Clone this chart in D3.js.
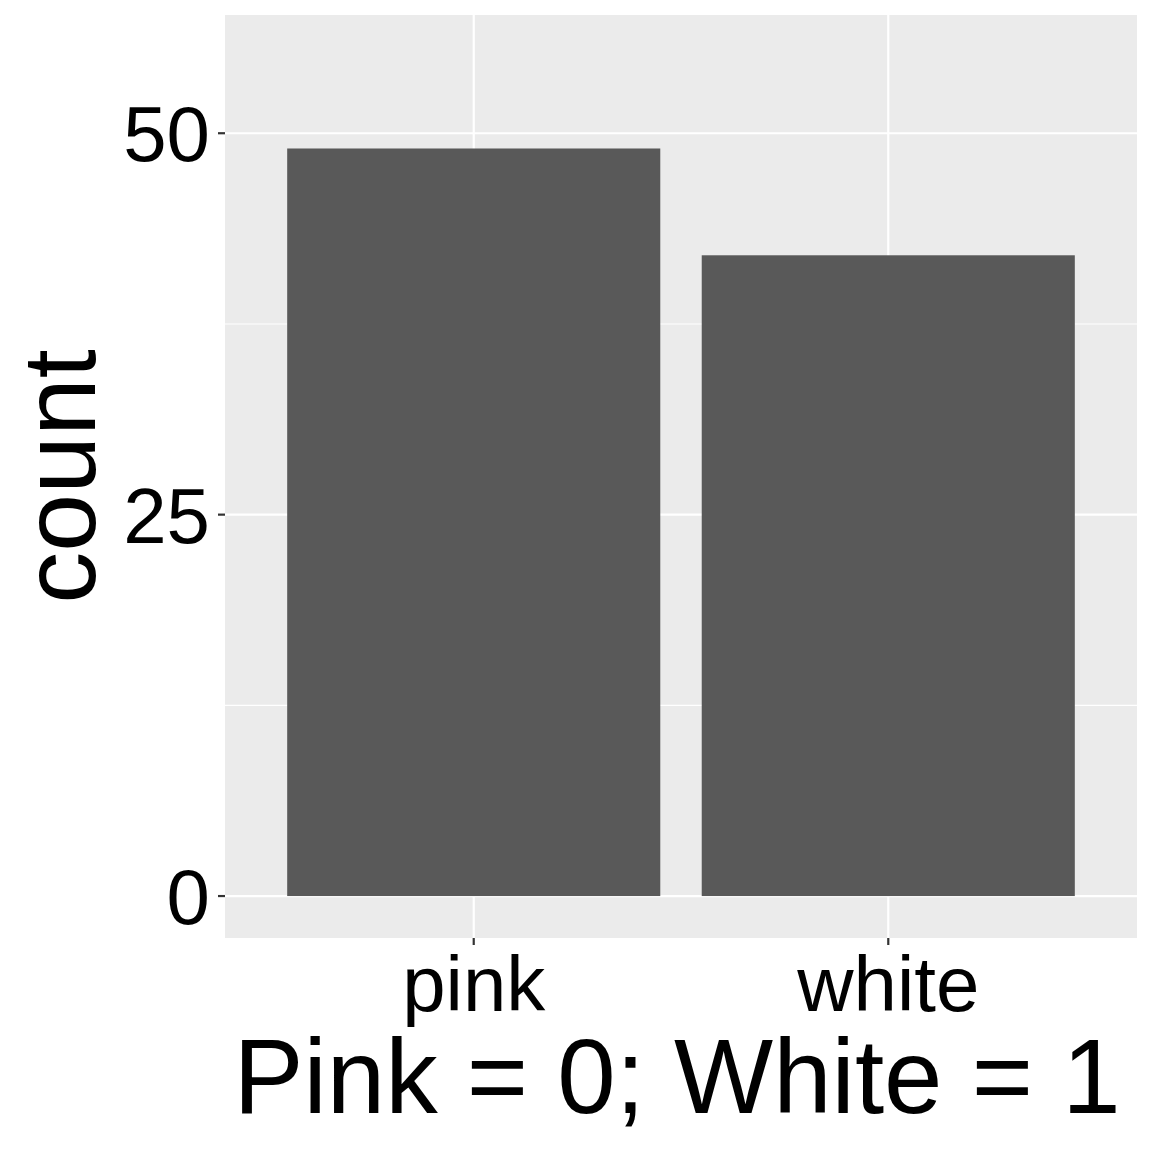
<!DOCTYPE html>
<html>
<head>
<meta charset="utf-8">
<script src="https://cdn.jsdelivr.net/npm/d3@7"></script>
<style>
  body { margin: 0; background: #fff; }
  text { font-family: "Liberation Sans", Arial, sans-serif; }
</style>
</head>
<body>
<svg id="chart" width="1152" height="1152"></svg>
<script>
// data
var categories = ["pink", "white"];
var counts = [49, 42];
var yTicks = [0, 25, 50];
var yMinor = [12.5, 37.5];
var xTitle = "Pink = 0; White = 1";
var yTitle = "count";

var svg = d3.select("#chart");
var panel = {left: 225, right: 1137, top: 15, bottom: 938};

// scales (ggplot style: bar width 0.9, 0.6 expansion each side)
var x = d3.scaleBand().domain(categories)
  .range([panel.left, panel.right])
  .paddingInner(0.1).paddingOuter(0.15)
  .align(0.5);
var y = d3.scaleLinear().domain([-2.75, 57.75]).range([panel.bottom, panel.top]);

// panel background
svg.append("rect").attr("x", panel.left).attr("y", panel.top)
  .attr("width", panel.right - panel.left).attr("height", panel.bottom - panel.top)
  .style("fill", "#ebebeb");

// grid
svg.selectAll(".minor").data(yMinor).enter().append("line")
  .attr("x1", panel.left).attr("x2", panel.right)
  .attr("y1", d => y(d)).attr("y2", d => y(d))
  .style("stroke", "#fff").style("stroke-width", 1.1);
svg.selectAll(".majory").data(yTicks).enter().append("line")
  .attr("x1", panel.left).attr("x2", panel.right)
  .attr("y1", d => y(d)).attr("y2", d => y(d))
  .style("stroke", "#fff").style("stroke-width", 2.2);
svg.selectAll(".majorx").data(categories).enter().append("line")
  .attr("x1", d => x(d) + x.bandwidth() / 2).attr("x2", d => x(d) + x.bandwidth() / 2)
  .attr("y1", panel.top).attr("y2", panel.bottom)
  .style("stroke", "#fff").style("stroke-width", 2.2);

// bars
svg.selectAll(".bar").data(counts).enter().append("rect")
  .attr("x", (d, i) => x(categories[i]))
  .attr("width", x.bandwidth())
  .attr("y", d => y(d))
  .attr("height", d => y(0) - y(d))
  .style("fill", "#595959");

// y axis ticks + labels
svg.selectAll(".ytick").data(yTicks).enter().append("line")
  .attr("x1", panel.left - 7).attr("x2", panel.left)
  .attr("y1", d => y(d)).attr("y2", d => y(d))
  .style("stroke", "#333").style("stroke-width", 2.2);
svg.selectAll(".ylab").data(yTicks).enter().append("text")
  .attr("x", panel.left - 15).attr("y", d => y(d) + 28)
  .attr("text-anchor", "end")
  .style("font-size", "78px").style("fill", "#000")
  .text(d => d);

// x axis ticks + labels
svg.selectAll(".xtick").data(categories).enter().append("line")
  .attr("x1", d => x(d) + x.bandwidth() / 2).attr("x2", d => x(d) + x.bandwidth() / 2)
  .attr("y1", panel.bottom).attr("y2", panel.bottom + 7)
  .style("stroke", "#333").style("stroke-width", 2.2);
svg.selectAll(".xlab").data(categories).enter().append("text")
  .attr("x", d => x(d) + x.bandwidth() / 2).attr("y", 1011)
  .attr("text-anchor", "middle")
  .style("font-size", "78px").style("fill", "#000")
  .text(d => d);

// axis titles
svg.append("text")
  .attr("x", (panel.left + panel.right) / 2 - 4).attr("y", 1113)
  .attr("text-anchor", "middle")
  .style("font-size", "105px").style("fill", "#000")
  .text(xTitle);
svg.append("text")
  .attr("transform", "translate(95," + (panel.top + panel.bottom) / 2 + ") rotate(-90)")
  .attr("text-anchor", "middle")
  .style("font-size", "104px").style("fill", "#000")
  .text(yTitle);
</script>
</body>
</html>
